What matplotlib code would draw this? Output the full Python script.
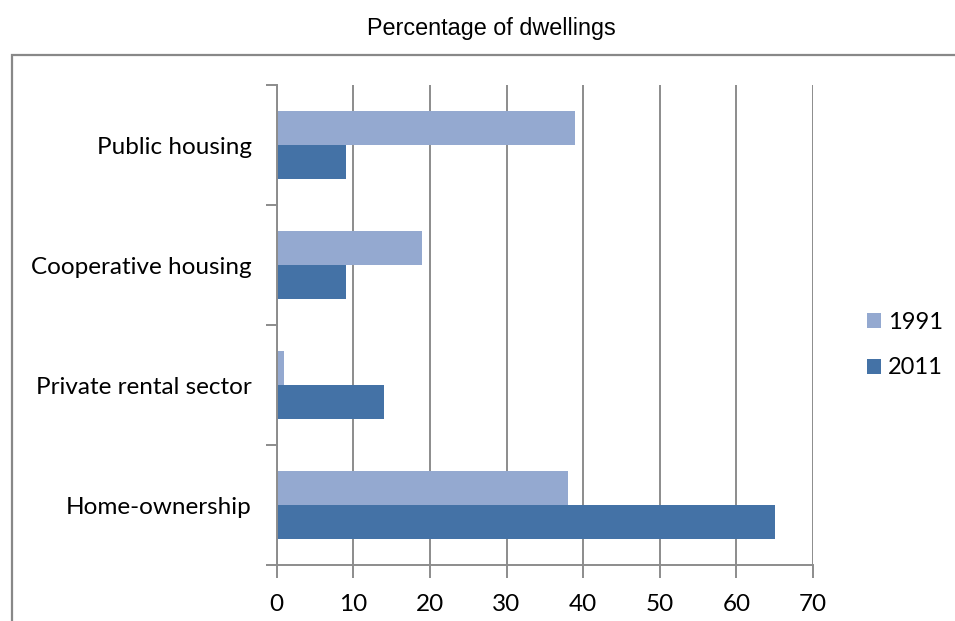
import matplotlib
matplotlib.use("Agg")
import matplotlib.pyplot as plt
from matplotlib.patches import Rectangle, Patch
import numpy as np

categories = ["Home-ownership", "Private rental sector", "Cooperative housing", "Public housing"]
values_1991 = [38, 1, 19, 39]
values_2011 = [65, 14, 9, 9]
series_labels = ["1991", "2011"]
x_ticks = [0, 10, 20, 30, 40, 50, 60, 70]

c1991 = "#94A9D0"
c2011 = "#4472A6"
grid_c = "#8C8C8C"

W, H = 955, 621
fig = plt.figure(figsize=(W / 100, H / 100), dpi=100)
font = "Lato"
fs = 17.5

# outer chart frame (continues past the right and bottom edges)
fig.patches.append(Rectangle((12 / W, -0.05), 1.0, 1 - 55 / H + 0.05,
                             transform=fig.transFigure, fill=False,
                             edgecolor="#888888", linewidth=1.6, clip_on=False))

fig.text(491 / W, 1 - 28 / H, "Percentage of dwellings", ha="center", va="center",
         fontsize=16.8, family="Liberation Sans", color="#000000")

ax = fig.add_axes([276.7 / W, 1 - 565 / H, (813 - 276.7) / W, (565 - 85) / H])

y = np.arange(len(categories))
h = 34 / 120
ax.barh(y + h / 2, values_1991, height=h, color=c1991, label=series_labels[0], zorder=3)
ax.barh(y - h / 2, values_2011, height=h, color=c2011, label=series_labels[1], zorder=3)

ax.set_xlim(0, 70)
ax.set_ylim(-0.5, len(categories) - 0.5)
ax.set_xticks(x_ticks)
ax.set_xticklabels([str(t) for t in x_ticks], fontsize=fs, family=font)
ax.set_yticks(y)
ax.set_yticklabels(categories, fontsize=fs, family=font)
ax.tick_params(axis="y", length=0, pad=18)
ax.set_yticks(np.arange(len(categories) + 1) - 0.5, minor=True)
ax.tick_params(axis="y", which="minor", length=8, color=grid_c, width=1.4)
ax.tick_params(axis="x", length=9, color=grid_c, width=1.4, pad=12)

ax.xaxis.grid(True, color=grid_c, linewidth=1.4, zorder=0)
ax.set_axisbelow(True)
for s in ["top", "right"]:
    ax.spines[s].set_visible(False)
for s in ["left", "bottom"]:
    ax.spines[s].set_color(grid_c)
    ax.spines[s].set_linewidth(1.4)
    ax.spines[s].set_zorder(4)

handles = [Patch(facecolor=c1991), Patch(facecolor=c2011)]
fig.legend(handles, series_labels, loc="center left",
           bbox_to_anchor=(850 / W, 1 - 345 / H), frameon=False,
           prop={"family": font, "size": 17}, handlelength=0.6, handleheight=0.6,
           handletextpad=0.3, labelspacing=1.05, borderpad=0.2)

fig.savefig("out.png", dpi=100)
